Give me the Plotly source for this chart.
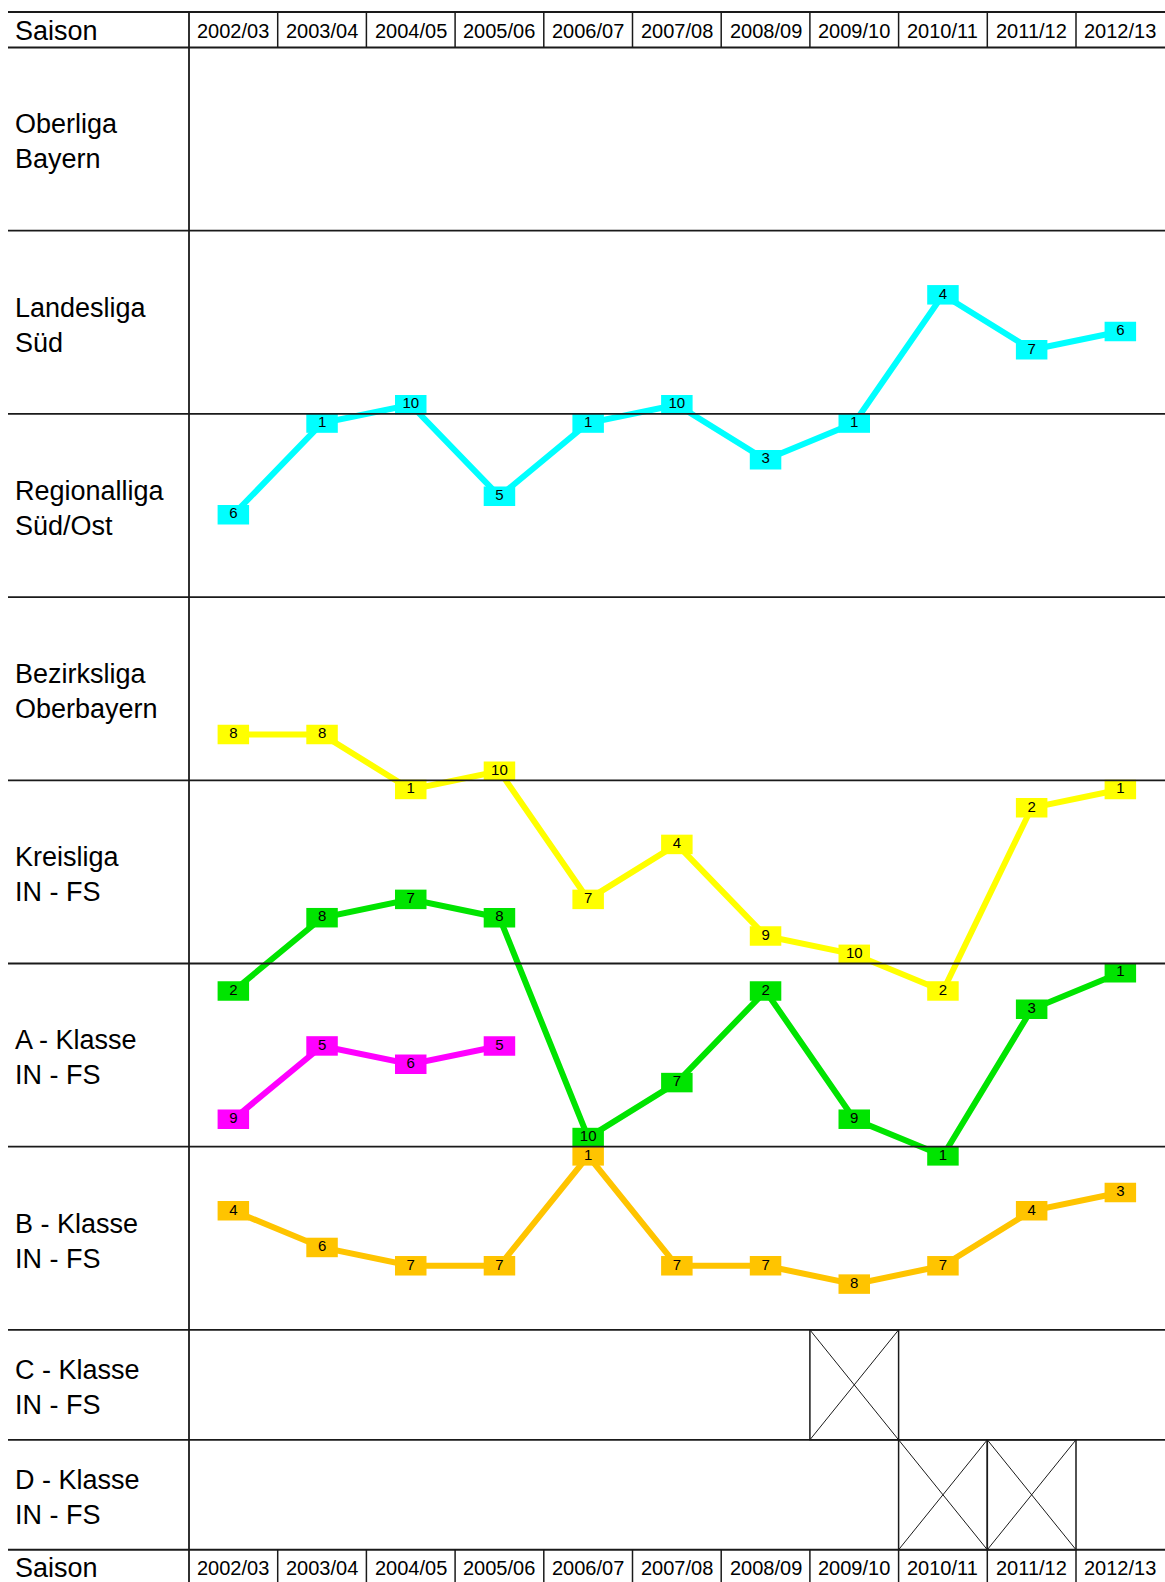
import plotly.graph_objects as go

# ---------------- data ----------------
seasons = ["2002/03", "2003/04", "2004/05", "2005/06", "2006/07", "2007/08",
           "2008/09", "2009/10", "2010/11", "2011/12", "2012/13"]
leagues = ["Oberliga<br>Bayern", "Landesliga<br>Süd", "Regionalliga<br>Süd/Ost",
           "Bezirksliga<br>Oberbayern", "Kreisliga<br>IN - FS", "A - Klasse<br>IN - FS",
           "B - Klasse<br>IN - FS", "C - Klasse<br>IN - FS", "D - Klasse<br>IN - FS"]
league_slots = [10, 10, 10, 10, 10, 10, 10, 6, 6]

# league index (into leagues) and final table position per season
cyan_level = [2, 2, 1, 2, 2, 1, 2, 2, 1, 1, 1]
cyan_rank = [6, 1, 10, 5, 1, 10, 3, 1, 4, 7, 6]
yellow_level = [3, 3, 4, 3, 4, 4, 4, 4, 5, 4, 4]
yellow_rank = [8, 8, 1, 10, 7, 4, 9, 10, 2, 2, 1]
green_level = [5, 4, 4, 4, 5, 5, 5, 5, 6, 5, 5]
green_rank = [2, 8, 7, 8, 10, 7, 2, 9, 1, 3, 1]
magenta_level = [5, 5, 5, 5]
magenta_rank = [9, 5, 6, 5]
orange_level = [6, 6, 6, 6, 6, 6, 6, 6, 6, 6, 6]
orange_rank = [4, 6, 7, 7, 1, 7, 7, 8, 7, 4, 3]

# crossed (not existing) cells: (league index, season index)
crossed_cells = [(7, 7), (8, 8), (8, 9)]

series = [
    (cyan_level, cyan_rank, "#00FFFF"),
    (yellow_level, yellow_rank, "#FFFF00"),
    (green_level, green_rank, "#00E400"),
    (magenta_level, magenta_rank, "#FF00FF"),
    (orange_level, orange_rank, "#FFC400"),
]

# ---------------- geometry ----------------
W, H = 1165, 1582
COL_LEFT = 189.0     # px of first season column border
COL_W = 88.7         # px per season column
ROW_TOP = 47.5       # px of first league row
UNIT = 18.32         # px per table position
LEFT_EDGE = 8.0
HEADER_TOP = 12.0

row_tops = [0]
for s in league_slots:
    row_tops.append(row_tops[-1] + s)

x_lo = -COL_LEFT / COL_W - 0.5
x_hi = (W - COL_LEFT) / COL_W - 0.5
y_lo = -ROW_TOP / UNIT
y_hi = (H - ROW_TOP) / UNIT
y_header = (HEADER_TOP - ROW_TOP) / UNIT
y_footer = row_tops[-1]

fig = go.Figure()

FONT = "Liberation Sans, Arial, sans-serif"

for lv, rk, col in series:
    xs = list(range(len(rk)))
    ys = [row_tops[l] + r - 0.5 for l, r in zip(lv, rk)]
    fig.add_trace(go.Scatter(
        x=xs, y=ys, mode="lines+markers+text",
        line=dict(color=col, width=6),
        marker=dict(symbol="line-ew", size=22.5, color=col,
                    line=dict(color=col, width=19.5)),
        text=[str(r) for r in rk], textposition="middle center",
        textfont=dict(family=FONT, size=15, color="#000"),
        hoverinfo="skip", cliponaxis=False,
    ))

shapes = []
LC = "#1a1a1a"
# horizontal lines
for yy in [y_header] + row_tops:
    shapes.append(dict(type="line", xref="paper", yref="y",
                       x0=LEFT_EDGE / W, x1=1, y0=yy, y1=yy,
                       line=dict(color=LC, width=1.8)))
# main vertical separator
shapes.append(dict(type="line", xref="x", yref="y", x0=-0.5, x1=-0.5,
                   y0=y_header, y1=y_hi, line=dict(color=LC, width=1.8)))
# header / footer season separators
for i in range(len(seasons) - 1):
    xx = i + 0.5
    shapes.append(dict(type="line", xref="x", yref="y", x0=xx, x1=xx,
                       y0=y_header, y1=0, line=dict(color=LC, width=1.5)))
    shapes.append(dict(type="line", xref="x", yref="y", x0=xx, x1=xx,
                       y0=y_footer, y1=y_hi, line=dict(color=LC, width=1.5)))
# crossed cells
for lg, si in crossed_cells:
    x0, x1 = si - 0.5, si + 0.5
    y0, y1 = row_tops[lg], row_tops[lg + 1]
    shapes.append(dict(type="rect", xref="x", yref="y", x0=x0, x1=x1, y0=y0, y1=y1,
                       line=dict(color=LC, width=1.5)))
    shapes.append(dict(type="line", xref="x", yref="y", x0=x0, x1=x1, y0=y0, y1=y1,
                       line=dict(color=LC, width=1)))
    shapes.append(dict(type="line", xref="x", yref="y", x0=x0, x1=x1, y0=y1, y1=y0,
                       line=dict(color=LC, width=1)))

annotations = []
label_x = 13 / W
for k, name in enumerate(leagues):
    yc = (row_tops[k] + row_tops[k + 1]) / 2 + 0.15
    annotations.append(dict(xref="paper", yref="y", x=label_x, y=yc, text=name,
                            showarrow=False, xanchor="left", yanchor="middle", align="left",
                            font=dict(family=FONT, size=27, color="#000")))
for yc in [(y_header + 0) / 2 + 0.05, y_footer + (y_hi - y_footer) / 2 + 0.12]:
    annotations.append(dict(xref="paper", yref="y", x=label_x, y=yc, text="Saison",
                            showarrow=False, xanchor="left", yanchor="middle",
                            font=dict(family=FONT, size=27, color="#000")))
    for i, s in enumerate(seasons):
        annotations.append(dict(xref="x", yref="y", x=i, y=yc, text=s,
                                showarrow=False, xanchor="center", yanchor="middle",
                                font=dict(family=FONT, size=20, color="#000")))

fig.update_layout(
    width=W, height=H, margin=dict(l=0, r=0, t=0, b=0),
    paper_bgcolor="white", plot_bgcolor="white", showlegend=False,
    xaxis=dict(range=[x_lo, x_hi], visible=False, fixedrange=True),
    yaxis=dict(range=[y_hi, y_lo], visible=False, fixedrange=True),
    shapes=shapes, annotations=annotations,
)

fig.write_html("out.html", post_script="document.body.style.margin='0';",
               config={"displayModeBar": False})
